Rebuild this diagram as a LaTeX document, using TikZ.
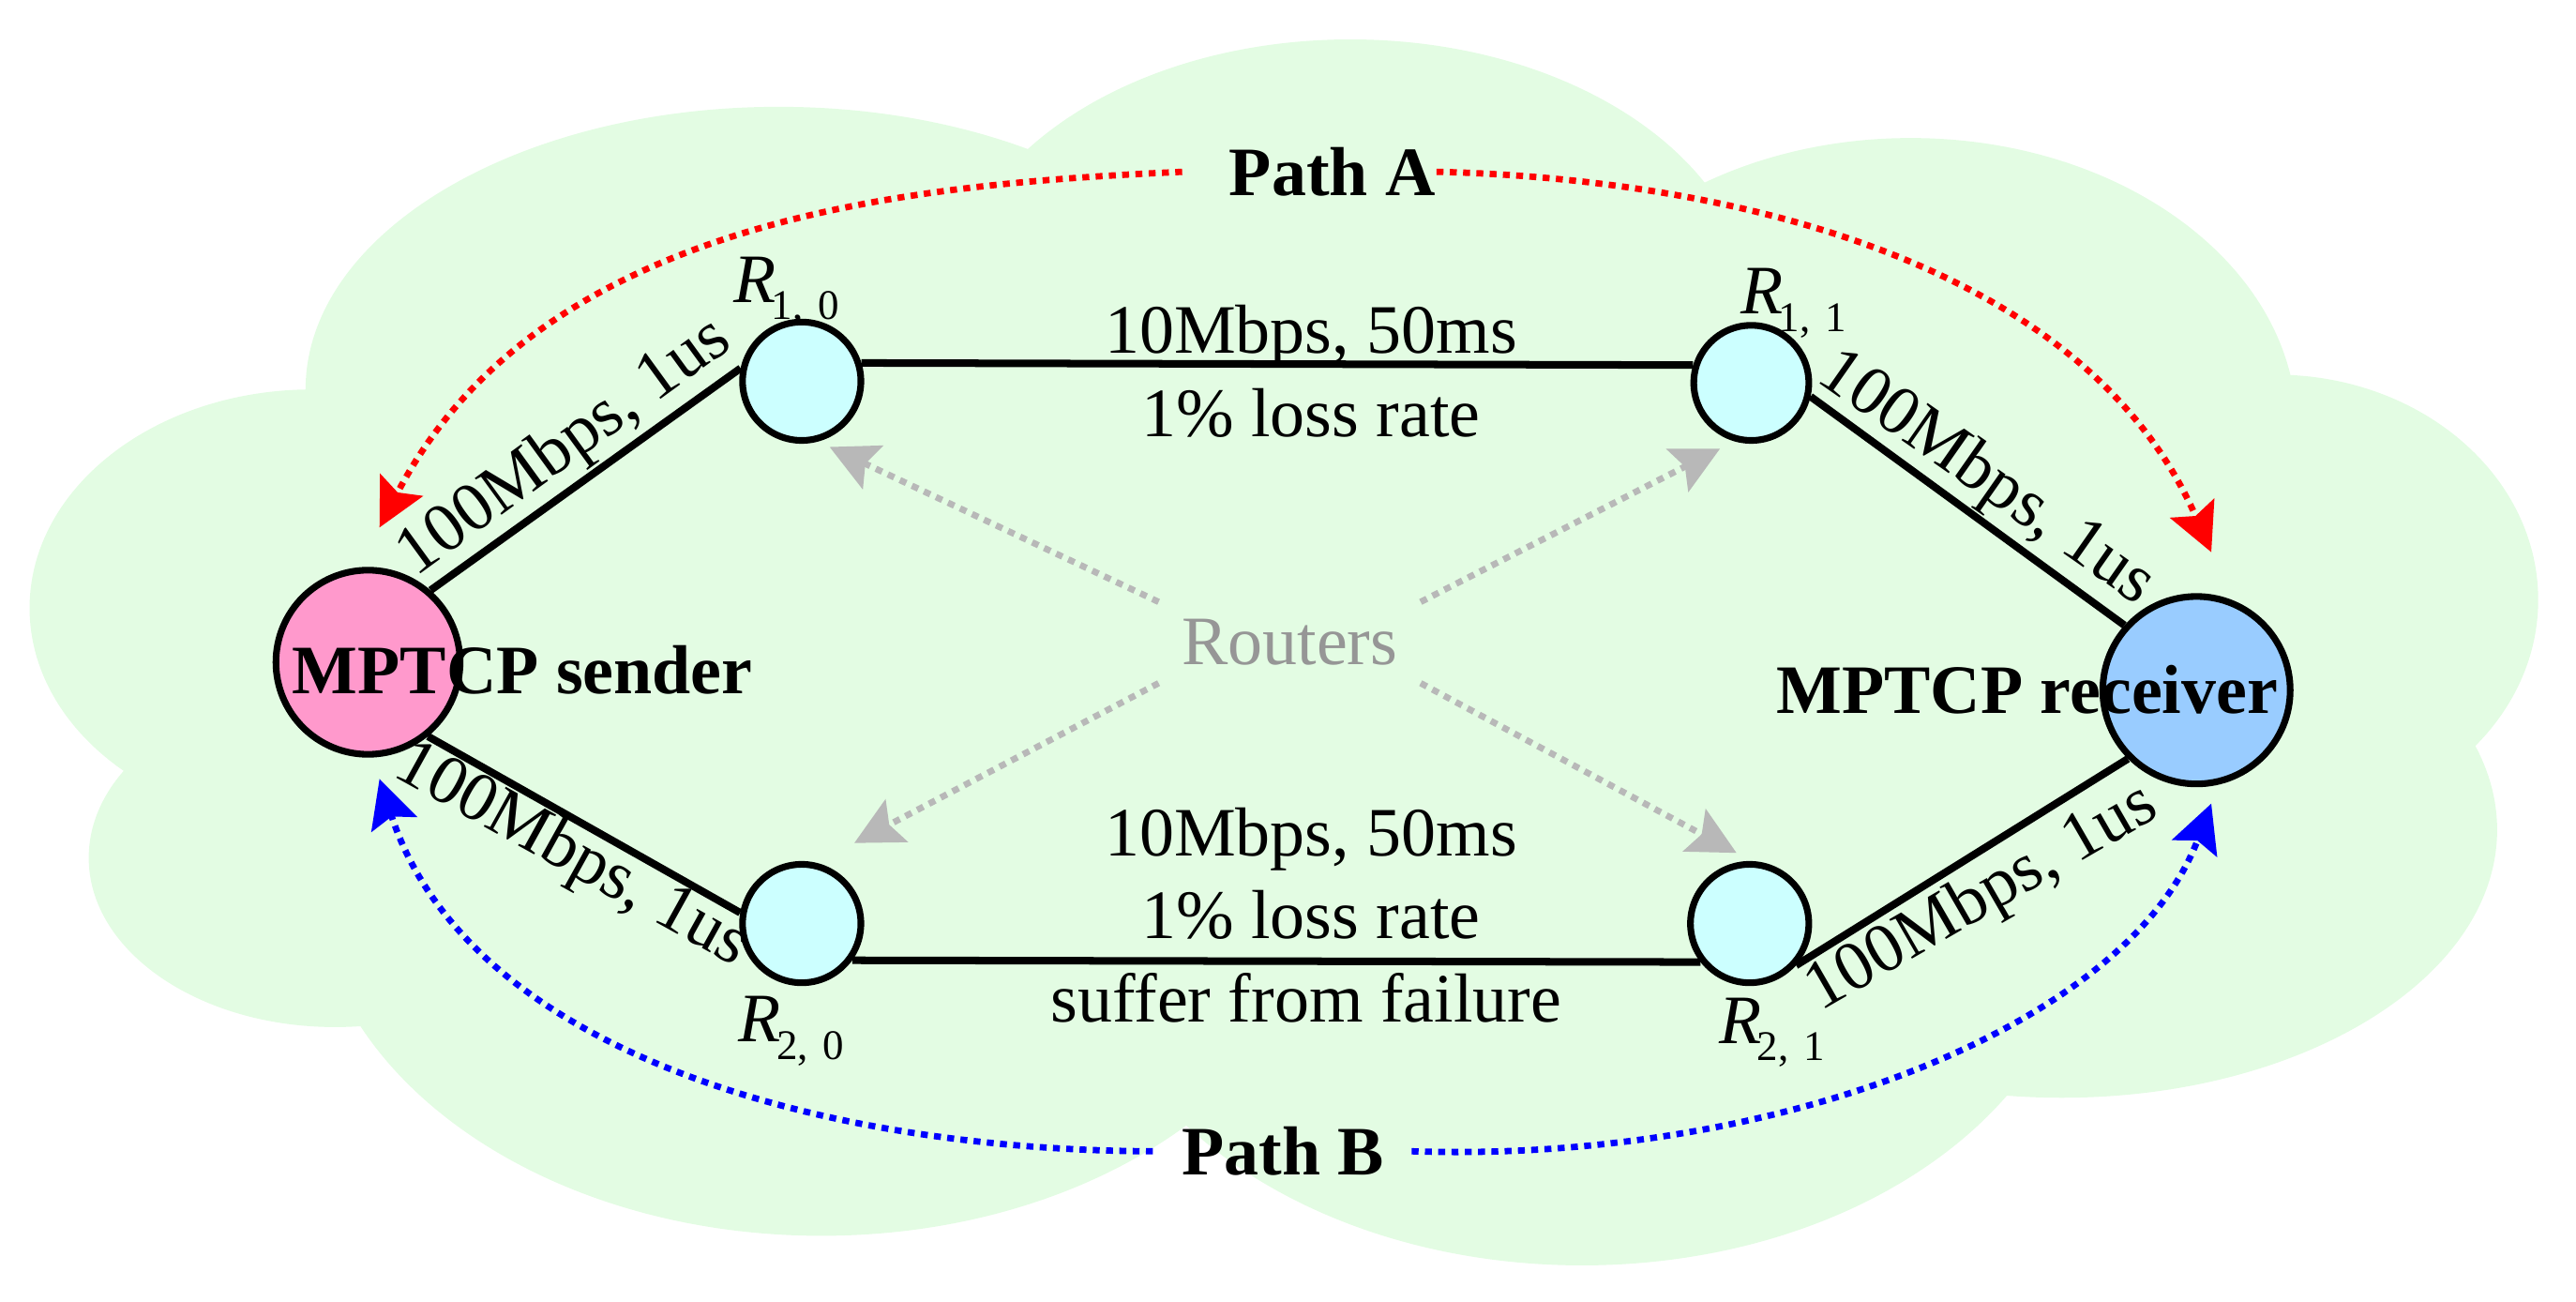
\documentclass[tikz,border=0pt]{standalone}
\usepackage{fontspec}
\setmainfont{Liberation Serif}
\usetikzlibrary{arrows.meta}
\tikzset{
  cloudfill/.style={fill=cloudgreen,draw=none},
  router/.style={circle,draw,line width=1.15pt,fill=routercyan,minimum size=0.72cm,inner sep=0pt},
  host/.style={circle,draw,line width=1.15pt,minimum size=1.12cm,inner sep=0pt},
  link/.style={draw,line width=1.3pt},
  txt/.style={inner sep=0pt,font=\fontsize{12}{14}\selectfont},
  basetxt/.style={txt,anchor=base},
  boldtxt/.style={basetxt,font=\fontsize{12}{14}\selectfont\bfseries},
  routerlabel/.style={txt,anchor=base west},
  patharrow/.style={line width=1.1pt,dash pattern=on 1.2pt off 1.1pt,-{Stealth[length=0.29cm,width=0.29cm,inset=0.05cm]}}
}
\definecolor{cloudgreen}{HTML}{E3FCE3}
\definecolor{routercyan}{HTML}{CCFFFF}
\definecolor{senderpink}{HTML}{FF99CC}
\definecolor{receiverblue}{HTML}{99CCFF}
\definecolor{routersgray}{HTML}{969696}
\definecolor{arrowgray}{HTML}{B8B8B8}
\newcommand{\rname}[2]{\textit{R}\kern-0.8pt\raisebox{-3pt}{\fontsize{7.3}{9}\selectfont #1,\hspace{2.6pt}#2}}
\begin{document}
\begin{tikzpicture}[x=0.01cm,y=-0.01cm]
  \useasboundingbox (0,0) rectangle (1568,792);
  % cloud
  \foreach \cx/\cy/\rx/\ry in {474/237/288/172,822/190/245/166,1163/260/235/176,1385/365/160/137,
    1255/505/265/163,963/550/305/220,500/530/310/222,204/522/150/103,190/370/172/133,780/400/600/220}
    \fill[cloudfill] (\cx,\cy) ellipse [x radius=\rx,y radius=\ry];
  % hosts and routers
  \node[host,fill=senderpink] (sender) at (224,403) {};
  \node[host,fill=receiverblue,minimum size=1.14cm] (receiver) at (1337,420) {};
  \node[router] (R10) at (488,232) {};
  \node[router,minimum size=0.7cm] (R11) at (1066,233) {};
  \node[router] (R20) at (488,562) {};
  \node[router] (R21) at (1065,562) {};
  % links
  \path[link] (R10.17) -- (R11.163);
  \path[link] (R20.-36) -- (R21.-142);
  \path[link] (sender.49) -- (R10.168);
  \path[link] (sender.-51) -- (R20.170);
  \path[link] (R11.-13) -- (receiver.138);
  \path[link] (R21.-42) -- (receiver.225);
  % text
  \node[boldtxt] (senderlabel) at (318,422) {MPTCP sender};
  \node[boldtxt] (receiverlabel) at (1234,434) {MPTCP receiver};
  \node[boldtxt] (patha) at (811,119) {Path A};
  \node[boldtxt] (pathb) at (781,715) {Path B};
  \node[basetxt] (topbw) at (798,215) {10Mbps, 50ms};
  \node[basetxt] (toploss) at (798,266) {1\% loss rate};
  \node[basetxt] (botbw) at (798,521) {10Mbps, 50ms};
  \node[basetxt] (botloss) at (798,571) {1\% loss rate};
  \node[basetxt] (botfail) at (795,622) {suffer from failure};
  \node[basetxt,rotate=36] (linka) at (350,281) {100Mbps, 1us};
  \node[basetxt,rotate=-35] (linkb) at (1203,300) {100Mbps, 1us};
  \node[basetxt,rotate=-29] (linkc) at (343,530) {100Mbps, 1us};
  \node[basetxt,rotate=30] (linkd) at (1212,556) {100Mbps, 1us};
  \node[routerlabel] (lab10) at (446,184) {\rname{1}{0}};
  \node[routerlabel] (lab11) at (1059,191) {\rname{1}{1}};
  \node[routerlabel] (lab20) at (449,634) {\rname{2}{0}};
  \node[routerlabel] (lab21) at (1046,635) {\rname{2}{1}};
  \node[txt,text=routersgray,minimum width=1.58cm,minimum height=0.48cm] (routers) at (785,391) {Routers};
  % free ends of the arrows
  \coordinate (senderA) at (231,321);
  \coordinate (receiverA) at (1346,336);
  \coordinate (senderB) at (231,474);
  \coordinate (receiverB) at (1346,489);
  \coordinate (gray10) at (505,272);
  \coordinate (gray11) at (1047,273);
  \coordinate (gray20) at (520,513);
  \coordinate (gray21) at (1057,519);
  % paths
  \draw[patharrow,red] ([xshift=-0.28cm]patha.west) .. controls (560,112) and (330,130) .. (senderA);
  \draw[patharrow,red] (patha.east) .. controls (1030,108) and (1265,150) .. (receiverA);
  \draw[patharrow,blue] ([xshift=-0.17cm]pathb.west) .. controls (500,700) and (285,640) .. (senderB);
  \draw[patharrow,blue] ([xshift=0.16cm]pathb.east) .. controls (1080,708) and (1295,625) .. (receiverB);
  % routers
  \draw[patharrow,arrowgray] (routers.north west) -- (gray10);
  \draw[patharrow,arrowgray] (routers.north east) -- (gray11);
  \draw[patharrow,arrowgray] (routers.south west) -- (gray20);
  \draw[patharrow,arrowgray] (routers.south east) -- (gray21);
\end{tikzpicture}
\end{document}
